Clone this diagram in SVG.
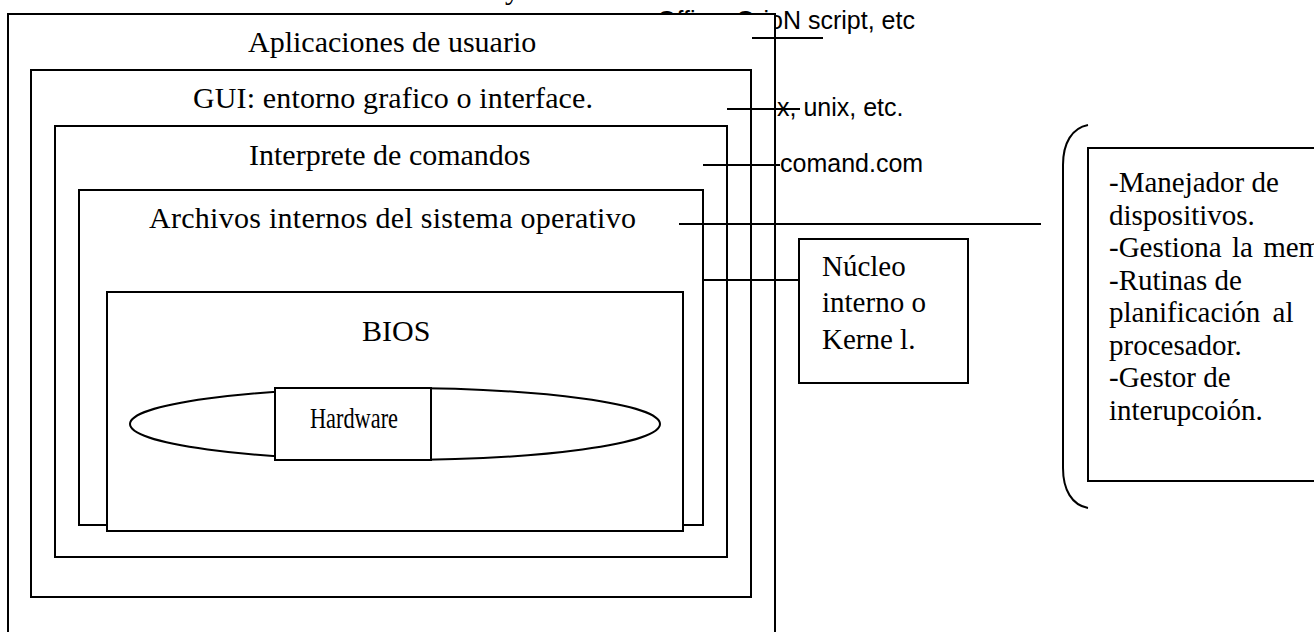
<svg xmlns="http://www.w3.org/2000/svg" width="1314" height="632" viewBox="0 0 1314 632">
<style>
.box{fill:#fff;stroke:#000;stroke-width:2}
.ln{stroke:#000;stroke-width:2;fill:none}
.serif{font-family:"Liberation Serif","Times New Roman",serif;font-size:30px;fill:#000}
.sm{font-size:29px}
.sans{font-family:"Liberation Sans",Arial,sans-serif;font-size:25px;fill:#000}
</style>
<rect width="1314" height="632" fill="#fff"/>
<g id="labels-top">
<text class="serif" x="505" y="-1">y</text>
<text class="sans" x="657" y="29">Office, OrioN script, etc</text>
</g>
<g id="aplicaciones">
<rect class="box" x="8" y="14" width="767" height="630"/>
<text class="serif" x="248" y="52">Aplicaciones de usuario</text>
</g>
<g id="gui">
<rect class="box" x="31" y="70" width="720" height="527"/>
<text class="serif" x="193" y="108" textLength="400" lengthAdjust="spacing">GUI: entorno grafico o interface.</text>
</g>
<g id="interprete">
<rect class="box" x="55" y="126" width="672" height="431"/>
<text class="serif" x="249" y="165">Interprete de comandos</text>
</g>
<g id="archivos">
<rect class="box" x="79" y="190" width="624" height="335"/>
<text class="serif" x="149" y="228" textLength="487" lengthAdjust="spacing">Archivos internos del sistema operativo</text>
</g>
<g id="bios">
<rect class="box" x="107" y="292" width="576" height="239"/>
<text class="serif" x="362" y="341">BIOS</text>
</g>
<g id="hardware">
<ellipse class="box" cx="395" cy="424" rx="265" ry="36"/>
<rect class="box" x="275" y="388" width="156" height="72"/>
<text class="serif" x="310" y="428" font-size="35" textLength="88" lengthAdjust="spacingAndGlyphs">Hardware</text>
</g>
<g id="kernel">
<rect class="box" x="799" y="239" width="169" height="144"/>
<text class="serif sm" x="822" y="276">Núcleo</text>
<text class="serif sm" x="822" y="312">interno o</text>
<text class="serif sm" x="822" y="349">Kerne l.</text>
</g>
<g id="funciones">
<rect class="box" x="1088" y="148" width="240" height="333"/>
<path class="ln" d="M1088,125 C1072,128 1063,143 1063,165 L1063,468 C1063,490 1072,505 1088,508"/>
<text class="serif sm" x="1109" y="192">-Manejador de</text>
<text class="serif sm" x="1109" y="224.5">dispositivos.</text>
<text class="serif sm" x="1109" y="257" word-spacing="3">-Gestiona la memoria.</text>
<text class="serif sm" x="1109" y="289.5">-Rutinas de</text>
<text class="serif sm" x="1109" y="322" word-spacing="5">planificación al</text>
<text class="serif sm" x="1109" y="354.5">procesador.</text>
<text class="serif sm" x="1109" y="387">-Gestor de</text>
<text class="serif sm" x="1109" y="419.5">interupcoión.</text>
</g>
<g id="labels-right">
<text class="sans" x="777" y="116">x, unix, etc.</text>
<text class="sans" x="780" y="172">comand.com</text>
</g>
<g id="connectors">
<line class="ln" x1="752" y1="38" x2="823" y2="38"/>
<line class="ln" x1="727" y1="109" x2="800" y2="109"/>
<line class="ln" x1="703" y1="165" x2="780" y2="165"/>
<line class="ln" x1="679" y1="224" x2="1041" y2="224"/>
<line class="ln" x1="703" y1="280" x2="799" y2="280"/>
</g>
</svg>
